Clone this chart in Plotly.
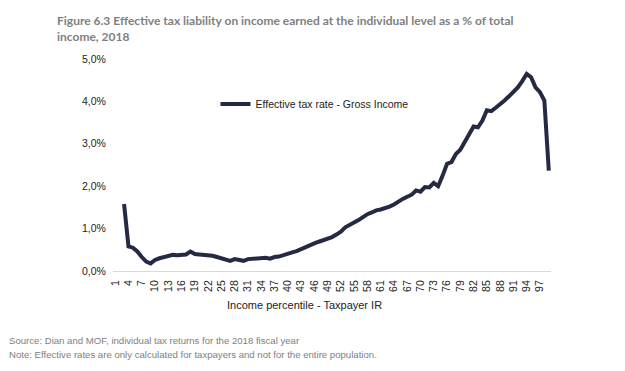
import plotly.graph_objects as go

percentiles = list(range(1, 100))
effective_rate = [
    None, None, 1.58, 0.58, 0.55, 0.46, 0.33, 0.22, 0.18, 0.26,
    0.30, 0.33, 0.36, 0.38, 0.37, 0.39, 0.39, 0.46, 0.40, 0.39,
    0.38, 0.38, 0.36, 0.33, 0.30, 0.27, 0.24, 0.28, 0.25, 0.24,
    0.28, 0.29, 0.29, 0.30, 0.31, 0.29, 0.33, 0.34, 0.38, 0.40,
    0.44, 0.47, 0.52, 0.56, 0.61, 0.65, 0.69, 0.72, 0.76, 0.80,
    0.86, 0.93, 1.03, 1.08, 1.13, 1.20, 1.27, 1.34, 1.38, 1.43,
    1.45, 1.48, 1.52, 1.57, 1.64, 1.70, 1.75, 1.80, 1.90, 1.87,
    1.98, 1.97, 2.08, 2.00, 2.25, 2.53, 2.57, 2.76, 2.86, 3.05,
    3.22, 3.41, 3.39, 3.55, 3.79, 3.77, 3.85, 3.93, 4.02, 4.12,
    4.22, 4.33, 4.48, 4.65, 4.57, 4.33, 4.22, 4.02, 2.37,
]
x_ticks = list(range(1, 100, 3))
y_ticks = [0, 1, 2, 3, 4, 5]
y_tick_labels = ["0,0%", "1,0%", "2,0%", "3,0%", "4,0%", "5,0%"]

title_text = ("Figure 6.3 Effective tax liability on income earned at the individual level as a % of total"
              "<br>income, 2018")
series_name = "Effective tax rate - Gross Income"
x_title = "Income percentile - Taxpayer IR"
source_text = "Source: Dian and MOF, individual tax returns for the 2018 fiscal year"
note_text = "Note: Effective rates are only calculated for taxpayers and not for the entire population."

# page body has an 8px default margin: the figure is drawn 8px in from the top-left
OFF = 8
PL, PR, PT, PB = 113, 551, 59, 271   # plot area in page pixels
PW, PH = PR - PL, PB - PT


def px_x(p):
    return (p - PL) / PW


def px_y(p):
    return (PB - p) / PH


fig = go.Figure()
fig.add_trace(go.Scatter(
    x=percentiles, y=effective_rate, mode="lines", name=series_name,
    line=dict(color="#252a44", width=4), connectgaps=False,
))

fig.update_layout(
    width=625 - OFF, height=371 - OFF,
    margin=dict(l=PL - OFF, r=625 - PR, t=PT - OFF, b=371 - PB),
    paper_bgcolor="white", plot_bgcolor="white",
    font=dict(family="Liberation Sans, Arial, sans-serif", color="#222222", size=10.5),
    showlegend=True,
    legend=dict(x=0.234, y=px_y(104), xanchor="left", yanchor="middle",
                bgcolor="rgba(0,0,0,0)", font=dict(size=10.5, color="#222222"),
                itemwidth=30),
    xaxis=dict(range=[0.5, 99.5], tickmode="array", tickvals=x_ticks,
               ticktext=[str(v) for v in x_ticks], tickangle=-90,
               showgrid=False, zeroline=False, showline=True, linecolor="#d9d9d9",
               linewidth=1, ticks="outside", ticklen=4, tickcolor="rgba(0,0,0,0)",
               tickfont=dict(size=10.5, color="#222222")),
    yaxis=dict(range=[0, 5], tickmode="array", tickvals=y_ticks, ticktext=y_tick_labels,
               showgrid=False, zeroline=False, showline=False,
               ticks="outside", ticklen=4, tickcolor="rgba(0,0,0,0)",
               tickfont=dict(size=10.5, color="#222222")),
    annotations=[
        dict(text=title_text, xref="paper", yref="paper", x=px_x(55), y=px_y(11),
             xanchor="left", yanchor="top", align="left", showarrow=False,
             font=dict(family="Lato, sans-serif", size=12, color="#808080", weight="bold")),
        dict(text=x_title, xref="paper", yref="paper", x=px_x(304), y=px_y(305),
             xanchor="center", yanchor="middle", showarrow=False,
             font=dict(size=11, color="#222222")),
        dict(text=source_text, xref="paper", yref="paper", x=px_x(7), y=px_y(340),
             xanchor="left", yanchor="middle", showarrow=False,
             font=dict(size=9.6, color="#808080")),
        dict(text=note_text, xref="paper", yref="paper", x=px_x(7), y=px_y(354),
             xanchor="left", yanchor="middle", showarrow=False,
             font=dict(size=9.6, color="#808080")),
    ],
)

fig.write_html("out.html")
